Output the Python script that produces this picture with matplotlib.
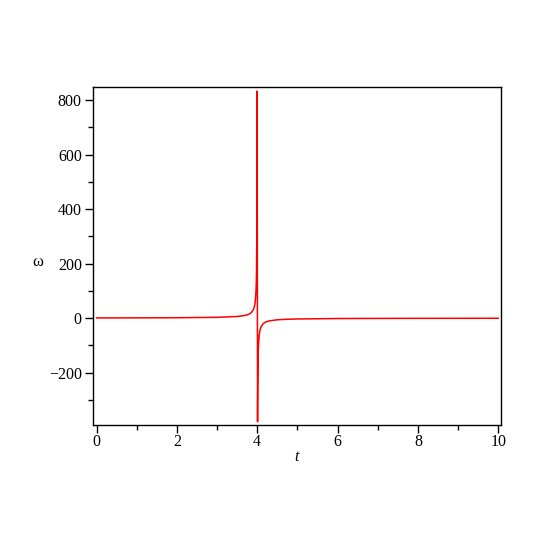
import matplotlib
matplotlib.use("Agg")
import matplotlib.pyplot as plt
from matplotlib.ticker import MultipleLocator

# Data
t_vals = [0.0, 1.0, 2.0, 3.0, 3.5, 3.7, 3.8, 3.85, 3.9, 3.93, 3.95, 3.97, 3.98,
          3.99, 3.995, 3.9964,
          4.0079, 4.01, 4.02, 4.03, 4.05, 4.07, 4.1, 4.15, 4.2, 4.3, 4.5, 4.8,
          5.0, 6.0, 7.0, 8.0, 10.0]
omega_vals = [0.75, 1.0, 1.5, 3.0, 6.0, 10.0, 15.0, 20.0, 30.0, 43.0, 60.0, 100.0, 150.0,
              300.0, 600.0, 833.0,
              -380.0, -300.0, -150.0, -100.0, -60.0, -43.0, -30.0, -20.0, -15.0, -10.0, -6.0, -3.75,
              -3.0, -1.5, -1.0, -0.75, -0.5]
x_ticks = [0, 2, 4, 6, 8, 10]
y_ticks = [-200, 0, 200, 400, 600, 800]

plt.rcParams['font.family'] = ['Liberation Serif', 'DejaVu Serif']
plt.rcParams['axes.unicode_minus'] = True

fig = plt.figure(figsize=(5.45, 5.45), dpi=100)
ax = fig.add_axes([0.1706, 0.2202, 0.9193 - 0.1706, 0.8404 - 0.2202])

ax.plot(t_vals, omega_vals, color='red', lw=1.1)

ax.set_xlim(-0.09, 10.07)
ax.set_ylim(-392, 848)
ax.set_xticks(x_ticks)
ax.set_yticks(y_ticks)
ax.xaxis.set_minor_locator(MultipleLocator(1))
ax.yaxis.set_minor_locator(MultipleLocator(100))
ax.tick_params(which='major', direction='out', length=6, width=1, labelsize=11.5, pad=2)
ax.tick_params(axis='x', which='major', pad=0.5)
ax.tick_params(which='minor', direction='out', length=3.5, width=1)
ax.tick_params(top=False, right=False, which='both')
for s in ax.spines.values():
    s.set_linewidth(1.0)

ax.set_xlabel('t', fontstyle='italic', fontsize=11.5)
ax.xaxis.set_label_coords(0.5, -0.07)
ax.set_ylabel('ω', rotation=0, fontsize=12)
ax.yaxis.set_label_coords(-0.135, 0.46)

fig.savefig('out.png', dpi=100)
